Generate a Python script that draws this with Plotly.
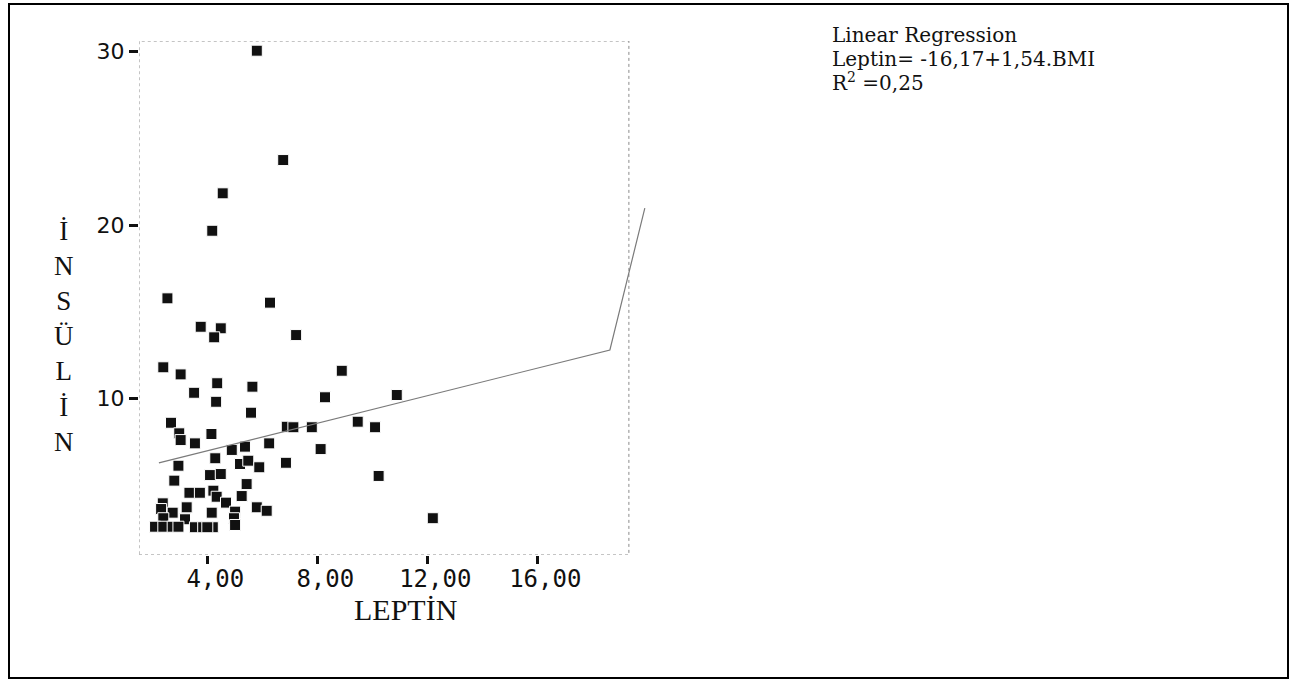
import plotly.graph_objects as go

# ---- data ----
leptin = [5.80, 6.76, 4.56, 4.18, 2.55, 6.28, 3.76, 4.49, 4.25, 7.23,
          2.40, 3.03, 8.89, 4.36, 5.64, 3.52, 4.32, 8.28, 10.89, 5.59,
          2.68, 6.89, 7.13, 7.80, 9.47, 10.10, 2.98, 3.03, 4.15, 3.55,
          6.25, 4.89, 5.37, 8.12, 2.95, 4.29, 5.19, 5.49, 5.89, 6.86,
          2.80, 4.10, 4.49, 10.23, 5.43, 3.35, 3.73, 4.22, 4.34, 4.68,
          5.25, 2.38, 2.32, 3.25, 5.80, 6.16, 2.74, 4.16, 5.01, 3.19,
          2.40, 4.97, 5.01, 2.10, 2.40, 2.74, 3.55, 3.85, 4.20, 12.20,
          2.95, 4.00]
insulin = [30.06, 23.75, 21.83, 19.67, 15.77, 15.52, 14.13, 14.04, 13.52, 13.65,
           11.79, 11.38, 11.59, 10.87, 10.67, 10.32, 9.80, 10.06, 10.19, 9.17,
           8.59, 8.36, 8.33, 8.33, 8.65, 8.33, 7.98, 7.59, 7.94, 7.40,
           7.40, 7.02, 7.21, 7.07, 6.11, 6.54, 6.21, 6.40, 6.02, 6.28,
           5.25, 5.57, 5.63, 5.52, 5.05, 4.55, 4.55, 4.67, 4.32, 3.98,
           4.36, 3.94, 3.61, 3.71, 3.71, 3.51, 3.40, 3.40, 3.46, 3.02,
           3.08, 3.08, 2.69, 2.59, 2.59, 2.59, 2.56, 2.56, 2.56, 3.08,
           2.59, 2.56]

reg_x = [2.24, 18.64, 19.91]
reg_y = [6.27, 12.79, 20.98]

x_tickvals = [4, 8, 12, 16]
x_ticktext = ["4,00", "8,00", "12,00", "16,00"]
y_tickvals = [10, 20, 30]
y_ticktext = ["10", "20", "30"]

x_title = "LEPTİN"
y_title_letters = ["İ", "N", "S", "Ü", "L", "İ", "N"]
reg_text = ["Linear Regression", "Leptin= -16,17+1,54.BMI", "R<sup>2</sup> =0,25"]

# ---- layout geometry (pixels) ----
W, H = 1305, 680
PL, PR, PT, PB = 139, 655, 41, 555          # plot area
X_RANGE = [1.516, 20.28]
Y_RANGE = [0.958, 30.62]
FRAME_X1 = 19.33


def px(xp):
    return (xp - PL) / (PR - PL)


def py(yp):
    return (PB - yp) / (PB - PT)


fig = go.Figure()

fig.add_trace(go.Scatter(
    x=leptin, y=insulin, mode="markers",
    marker=dict(symbol="square", size=11, color="#111111",
                line=dict(color="white", width=1)),
    cliponaxis=False, showlegend=False, hoverinfo="x+y"))

fig.add_trace(go.Scatter(
    x=reg_x, y=reg_y, mode="lines",
    line=dict(color="#7a7a7a", width=1.2),
    showlegend=False, hoverinfo="skip"))

shapes = [
    # plot frame (dotted)
    dict(type="rect", xref="x", yref="y", x0=X_RANGE[0], x1=FRAME_X1,
         y0=Y_RANGE[0], y1=Y_RANGE[1],
         line=dict(color="#8a8a8a", width=1, dash="dot"), layer="below"),
    # outer border
    dict(type="rect", xref="paper", yref="paper",
         x0=px(9), x1=px(1288), y0=py(678), y1=py(4),
         line=dict(color="black", width=2)),
]

annotations = [
    dict(text=x_title, xref="paper", yref="paper", x=px(405), y=py(609),
         xanchor="center", yanchor="middle", showarrow=False,
         font=dict(family="Liberation Serif", size=30, color="#111")),
    dict(text="<br>".join(y_title_letters), xref="paper", yref="paper",
         x=px(64), y=py(336), xanchor="center", yanchor="middle",
         showarrow=False, align="center",
         font=dict(family="Liberation Serif", size=27, color="#111")),
]
for i, line in enumerate(reg_text):
    annotations.append(dict(
        text=line, xref="paper", yref="paper",
        x=px(830), y=py(35 + 23.5 * i), xanchor="left", yanchor="middle",
        showarrow=False, align="left",
        font=dict(family="DejaVu Serif", size=20, color="#111")))

fig.update_layout(
    width=W, height=H,
    margin=dict(l=PL, r=W - PR, t=PT, b=H - PB, pad=0),
    paper_bgcolor="white", plot_bgcolor="white",
    shapes=shapes, annotations=annotations,
    xaxis=dict(range=X_RANGE, showgrid=False, zeroline=False, showline=False,
               tickmode="array", tickvals=x_tickvals, ticktext=x_ticktext,
               ticks="outside", ticklen=8, tickwidth=3, tickcolor="#111",
               ticklabelshift=8, ticklabelstandoff=-6,
               tickfont=dict(family="DejaVu Sans Mono", size=24, color="#111")),
    yaxis=dict(range=Y_RANGE, showgrid=False, zeroline=False, showline=False,
               tickmode="array", tickvals=y_tickvals, ticktext=y_ticktext,
               ticks="outside", ticklen=9, tickwidth=3, tickcolor="#111",
               tickfont=dict(family="DejaVu Sans", size=22, color="#111")),
)

fig.write_html("out.html")
